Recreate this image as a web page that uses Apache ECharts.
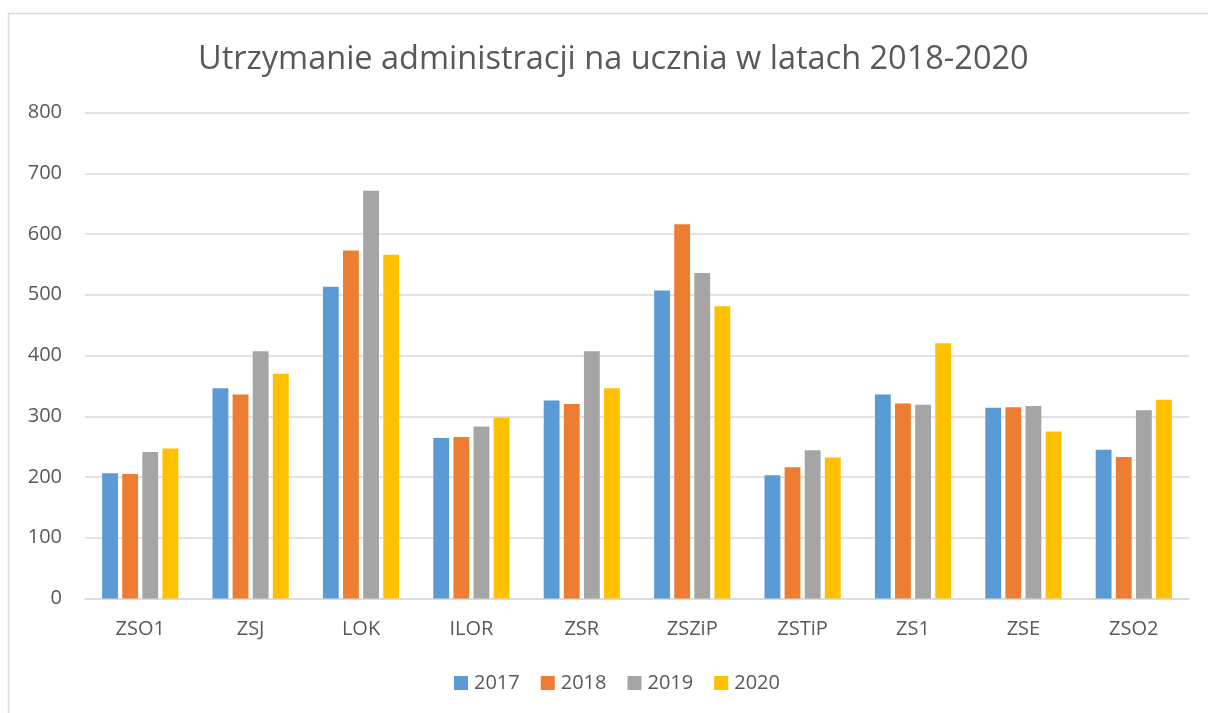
<!DOCTYPE html>
<html>
<head>
<meta charset="utf-8">
<script src="https://cdn.jsdelivr.net/npm/echarts@6/dist/echarts.min.js"></script>
<style>
html,body{margin:0;padding:0;background:#fff;}
#chart{width:1208px;height:713px;}
</style>
</head>
<body>
<div id="chart"></div>
<script>
const categories = ['ZSO1','ZSJ','LOK','ILOR','ZSR','ZSZiP','ZSTiP','ZS1','ZSE','ZSO2'];
const years = ['2017','2018','2019','2020'];
const values2017 = [206, 346, 513, 264, 326, 507, 203, 336, 314, 245];
const values2018 = [205, 336, 573, 266, 320, 616, 216, 321, 315, 233];
const values2019 = [241, 407, 671, 283, 407, 536, 244, 319, 317, 310];
const values2020 = [247, 370, 566, 298, 346, 481, 232, 420, 275, 327];
const yTicks = [0, 100, 200, 300, 400, 500, 600, 700, 800];

const colors = ['#5B9BD5','#ED7D31','#A5A5A5','#FFC000'];
const seriesValues = [values2017, values2018, values2019, values2020];
const font = 'Open Sans';

const chart = echarts.init(document.getElementById('chart'), null, {renderer:'canvas'});
chart.setOption({
  animation: false,
  textStyle: {fontFamily: font},
  title: {
    text: 'Utrzymanie administracji na ucznia w latach 2018-2020',
    left: 193, top: 38,
    textStyle: {fontFamily: font, fontSize: 32.5, fontWeight: 'normal', color: '#595959'}
  },
  graphic: [{
    type: 'rect', silent: true,
    shape: {x: 8.5, y: 13.5, width: 1210, height: 720},
    style: {fill: 'none', stroke: '#d9d9d9', lineWidth: 1.5}
  }],
  legend: {
    data: years, bottom: 15, left: 449,
    itemWidth: 14, itemHeight: 14, itemGap: 21,
    icon: 'rect',
    textStyle: {fontFamily: font, fontSize: 20, color: '#595959', padding: [0,0,0,1]}
  },
  grid: {left: 85, right: 19, top: 112.5, bottom: 114.5, containLabel: false},
  xAxis: {
    type: 'category', data: categories,
    axisLine: {lineStyle: {color: '#d9d9d9', width: 1.5}},
    axisTick: {show: false},
    axisLabel: {fontFamily: font, fontSize: 20, color: '#595959', margin: 21}
  },
  yAxis: {
    type: 'value', min: yTicks[0], max: yTicks[yTicks.length-1], interval: 100,
    axisLine: {show: false}, axisTick: {show: false},
    splitLine: {lineStyle: {color: '#d9d9d9', width: 1.5}},
    axisLabel: {fontFamily: font, fontSize: 20, color: '#595959', margin: 23}
  },
  series: years.map((y, i) => ({
    name: y, type: 'bar', data: seriesValues[i],
    barGap: '27%', barCategoryGap: '31%',
    itemStyle: {color: colors[i]}
  }))
});
</script>
</body>
</html>
